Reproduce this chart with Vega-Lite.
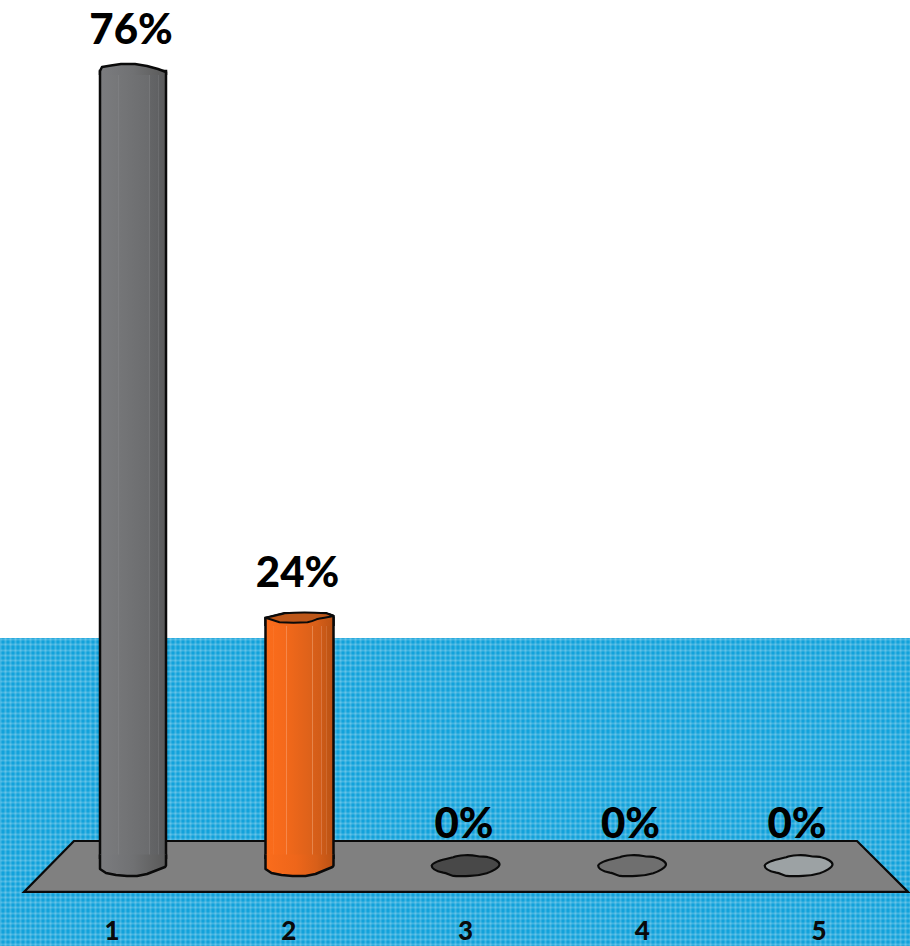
{
  "$schema": "https://vega.github.io/schema/vega-lite/v6.json",
  "width": 910,
  "height": 946,
  "padding": 0,
  "autosize": {"type": "none"},
  "background": "white",
  "view": {"fill": "#12a2db", "stroke": null},
  "datasets": {
    "results": [
      {"category": 1, "value": 0.76},
      {"category": 2, "value": 0.24},
      {"category": 3, "value": 0},
      {"category": 4, "value": 0},
      {"category": 5, "value": 0}
    ],
    "wall": [{"left": 0, "right": 910, "bottom": 0.221, "top": 0.8275}],
    "floor": [
      {"level": 0.028, "left": 74, "right": 857},
      {"level": -0.0204, "left": 24, "right": 908}
    ]
  },
  "resolve": {"scale": {"x": "independent", "y": "independent"}},
  "layer": [
    {
      "description": "White wall above the patterned backdrop; its axes carry the plaid grid",
      "data": {"name": "wall"},
      "mark": {"type": "rect", "fill": "white"},
      "encoding": {
        "x": {"field": "left", "type": "quantitative", "scale": {"domain": [0, 910], "nice": false, "zero": false},
          "axis": {"orient": "bottom", "title": null, "labels": false, "ticks": false, "domain": false, "grid": true, "tickCount": 182, "gridColor": "white", "gridOpacity": 0.2, "gridWidth": 2}},
        "x2": {"field": "right"},
        "y": {"field": "bottom", "type": "quantitative", "scale": {"domain": [-0.0718, 0.8275], "nice": false, "zero": false},
          "axis": {"orient": "left", "title": null, "labels": false, "ticks": false, "domain": false, "grid": true, "tickCount": 180, "gridColor": "white", "gridOpacity": 0.2, "gridWidth": 2}},
        "y2": {"field": "top"}
      }
    },
    {
      "description": "Floor plane under the columns",
      "data": {"name": "floor"},
      "mark": {"type": "area", "orient": "horizontal", "fill": "#808080", "stroke": "#0a0a0a", "strokeWidth": 2.2, "strokeJoin": "miter"},
      "encoding": {
        "y": {"field": "level", "type": "quantitative", "scale": {"domain": [-0.0718, 0.8275], "nice": false, "zero": false}, "axis": null},
        "x": {"field": "left", "type": "quantitative", "scale": {"domain": [0, 910], "nice": false, "zero": false}, "axis": null},
        "x2": {"field": "right"}
      }
    },
    {
      "description": "Grey column body",
      "data": {"name": "results"},
      "transform": [{"filter": "datum.category === 1"}],
      "mark": {"type": "bar", "size": 66, "stroke": "#0a0a0a", "strokeWidth": 2.5,
        "fill": {"gradient": "linear", "x1": 0, "x2": 1, "y1": 0, "y2": 0, "stops": [
          {"offset": 0, "color": "#7b7c7f"}, {"offset": 0.27, "color": "#767779"}, {"offset": 0.275, "color": "#86878a"}, {"offset": 0.285, "color": "#757678"},
          {"offset": 0.74, "color": "#6b6c6e"}, {"offset": 0.75, "color": "#767779"}, {"offset": 0.76, "color": "#646567"},
          {"offset": 0.875, "color": "#606163"}, {"offset": 0.885, "color": "#6e6f71"}, {"offset": 0.895, "color": "#5d5e60"}, {"offset": 1, "color": "#5a5a5a"}]}},
      "encoding": {
        "x": {"field": "category", "type": "ordinal", "scale": {"type": "point", "domain": [1, 2, 3, 4, 5], "range": [133, 799], "padding": 0}, "axis": null},
        "y": {"field": "value", "type": "quantitative", "scale": {"domain": [-0.0718, 0.8275], "nice": false, "zero": false}, "axis": null},
        "y2": {"datum": 0.012}
      }
    },
    {
      "description": "Grey column foot and top edge",
      "data": {"name": "results"},
      "transform": [{"filter": "datum.category === 1"}],
      "layer": [
        {"mark": {"type": "point", "filled": true, "opacity": 1, "size": 4, "stroke": "#0a0a0a", "strokeWidth": 2.5, "strokeJoin": "round",
          "shape": "M-33,4L-33,0L-31,-4L-22,-5.5L-12,-7L2,-7L14,-5L25,-2L33,1L33,4",
          "fill": {"gradient": "linear", "x1": 0, "x2": 1, "y1": 0, "y2": 0, "stops": [{"offset": 0, "color": "#7b7c7f"}, {"offset": 0.5, "color": "#707173"}, {"offset": 1, "color": "#5a5a5a"}]}},
          "encoding": {
            "x": {"field": "category", "type": "ordinal", "scale": {"type": "point", "domain": [1, 2, 3, 4, 5], "range": [133, 799], "padding": 0}, "axis": null},
            "y": {"field": "value", "type": "quantitative", "scale": {"domain": [-0.0718, 0.8275], "nice": false, "zero": false}, "axis": null}
          }},
        {"mark": {"type": "point", "filled": true, "opacity": 1, "size": 4, "stroke": "#0a0a0a", "strokeWidth": 2.5, "strokeJoin": "round",
          "shape": "M-33,-16L-33,-1.5L-27,2.5L-17,4.5L-6,5.5L4,5.5L14,3.5L32,-3.5L33,-5L33,-16",
          "fill": {"gradient": "linear", "x1": 0, "x2": 1, "y1": 0, "y2": 0, "stops": [{"offset": 0, "color": "#7b7c7f"}, {"offset": 0.5, "color": "#707173"}, {"offset": 1, "color": "#5a5a5a"}]}},
          "encoding": {
            "x": {"field": "category", "type": "ordinal", "scale": {"type": "point", "domain": [1, 2, 3, 4, 5], "range": [133, 799], "padding": 0}, "axis": null},
            "y": {"datum": 0, "type": "quantitative", "scale": {"domain": [-0.0718, 0.8275], "nice": false, "zero": false}, "axis": null}
          }}
      ]
    },
    {
      "description": "Orange column body, top and foot",
      "data": {"name": "results"},
      "transform": [{"filter": "datum.category === 2"}],
      "layer": [
        {"mark": {"type": "bar", "size": 68, "stroke": "#0a0a0a", "strokeWidth": 2.5,
          "fill": {"gradient": "linear", "x1": 0, "x2": 1, "y1": 0, "y2": 0, "stops": [
            {"offset": 0, "color": "#fa6c1c"}, {"offset": 0.105, "color": "#f96b1b"}, {"offset": 0.11, "color": "#fb8a48"}, {"offset": 0.12, "color": "#f96b1b"},
            {"offset": 0.305, "color": "#f4691b"}, {"offset": 0.31, "color": "#f79058"}, {"offset": 0.32, "color": "#f1681a"},
            {"offset": 0.68, "color": "#dc611a"}, {"offset": 0.69, "color": "#e88a52"}, {"offset": 0.7, "color": "#d85f19"},
            {"offset": 0.815, "color": "#d25c18"}, {"offset": 0.82, "color": "#e08455"}, {"offset": 0.83, "color": "#cc5a17"},
            {"offset": 0.895, "color": "#c75816"}, {"offset": 0.9, "color": "#d8804e"}, {"offset": 0.91, "color": "#c25615"}, {"offset": 1, "color": "#bb5214"}]}},
          "encoding": {
            "x": {"field": "category", "type": "ordinal", "scale": {"type": "point", "domain": [1, 2, 3, 4, 5], "range": [133, 799], "padding": 0}, "axis": null},
            "y": {"field": "value", "type": "quantitative", "scale": {"domain": [-0.0718, 0.8275], "nice": false, "zero": false}, "axis": null},
            "y2": {"datum": 0.012}
          }},
        {"mark": {"type": "point", "filled": true, "opacity": 1, "size": 4, "stroke": "#0a0a0a", "strokeWidth": 2.5, "strokeJoin": "round",
          "shape": "M-34,8L-34,0L-15,-4.7L27,-4.7L34,-2L34,8",
          "fill": {"gradient": "linear", "x1": 0, "x2": 1, "y1": 0, "y2": 0, "stops": [{"offset": 0, "color": "#fa6c1c"}, {"offset": 0.45, "color": "#ee661a"}, {"offset": 0.75, "color": "#d85f19"}, {"offset": 1, "color": "#bb5214"}]}},
          "encoding": {
            "x": {"field": "category", "type": "ordinal", "scale": {"type": "point", "domain": [1, 2, 3, 4, 5], "range": [133, 799], "padding": 0}, "axis": null},
            "y": {"field": "value", "type": "quantitative", "scale": {"domain": [-0.0718, 0.8275], "nice": false, "zero": false}, "axis": null}
          }},
        {"mark": {"type": "point", "filled": true, "opacity": 1, "size": 4, "fill": "#bd5719", "stroke": "#0a0a0a", "strokeWidth": 2, "strokeJoin": "round",
          "shape": "M-34,0C-28,-2 -20,-3 -15,-4.7C-5,-5.5 15,-5.5 27,-4.7C30,-3.5 32,-3 34,-2C28,-0.5 22,0 17,1.3C14,2.5 11,3.5 8,4.3C-2,4.8 -10,4.8 -20,4.3C-24,3 -27,2 -30,1Z"},
          "encoding": {
            "x": {"field": "category", "type": "ordinal", "scale": {"type": "point", "domain": [1, 2, 3, 4, 5], "range": [133, 799], "padding": 0}, "axis": null},
            "y": {"field": "value", "type": "quantitative", "scale": {"domain": [-0.0718, 0.8275], "nice": false, "zero": false}, "axis": null}
          }},
        {"mark": {"type": "point", "filled": true, "opacity": 1, "size": 4, "stroke": "#0a0a0a", "strokeWidth": 2.5, "strokeJoin": "round",
          "shape": "M-34,-16L-34,-1.5L-28,2.5L-18,4.5L-7,5.5L6,5.5L16,3.5L33,-3.5L34,-5L34,-16",
          "fill": {"gradient": "linear", "x1": 0, "x2": 1, "y1": 0, "y2": 0, "stops": [{"offset": 0, "color": "#fa6c1c"}, {"offset": 0.45, "color": "#ee661a"}, {"offset": 0.75, "color": "#d85f19"}, {"offset": 1, "color": "#bb5214"}]}},
          "encoding": {
            "x": {"field": "category", "type": "ordinal", "scale": {"type": "point", "domain": [1, 2, 3, 4, 5], "range": [133, 799], "padding": 0}, "axis": null},
            "y": {"datum": 0, "type": "quantitative", "scale": {"domain": [-0.0718, 0.8275], "nice": false, "zero": false}, "axis": null}
          }}
      ]
    },
    {
      "description": "Columns with no height collapse to a flat base on the floor",
      "data": {"name": "results"},
      "transform": [{"filter": "datum.value === 0"}],
      "mark": {"type": "point", "filled": true, "opacity": 1, "size": 4, "stroke": "#0a0a0a", "strokeWidth": 2.2, "strokeJoin": "round",
        "shape": "M-34.3,-4.8C-33,-9 -22,-11 -12.7,-13.2C-8,-15.5 4,-15.8 10.7,-14.5C15,-13.5 20,-14 22.3,-13.2C28,-12 33.5,-9 33.5,-6C33.5,-3 26,1 20.7,2.8C15,4.5 9,5.5 4,5.5C0,5.5 -6,6 -12.7,5.5C-17,4.5 -19,2.5 -22.7,2.2C-28,1 -34.3,-1 -34.3,-4.8Z"},
      "encoding": {
        "x": {"field": "category", "type": "ordinal", "scale": {"type": "point", "domain": [1, 2, 3, 4, 5], "range": [133, 799], "padding": 0}, "axis": null},
        "y": {"field": "value", "type": "quantitative", "scale": {"domain": [-0.0718, 0.8275], "nice": false, "zero": false}, "axis": null},
        "color": {"field": "category", "type": "nominal", "scale": {"domain": [3, 4, 5], "range": ["#484848", "#6f6f6f", "#9ca2a4"]}, "legend": null}
      }
    },
    {
      "description": "Percentage above each column",
      "data": {"name": "results"},
      "mark": {"type": "text", "font": "Lato", "fontWeight": 900, "fontSize": 42, "color": "black", "baseline": "middle", "align": "center"},
      "encoding": {
        "x": {"field": "category", "type": "ordinal", "scale": {"type": "point", "domain": [1, 2, 3, 4, 5], "range": [131, 797], "padding": 0}, "axis": null},
        "y": {"field": "value", "type": "quantitative", "scale": {"domain": [-0.1158, 0.7895], "nice": false, "zero": false}, "axis": null},
        "text": {"field": "value", "type": "quantitative", "format": ".0%"}
      }
    },
    {
      "description": "Category numbers along the front of the floor",
      "data": {"name": "results"},
      "mark": {"type": "text", "font": "Lato", "fontWeight": 900, "fontSize": 26, "color": "#0a0a0a", "baseline": "alphabetic", "align": "center"},
      "encoding": {
        "x": {"field": "category", "type": "ordinal", "scale": {"type": "point", "domain": [1, 2, 3, 4, 5], "range": [112, 819], "padding": 0}, "axis": null},
        "y": {"datum": -0.066, "type": "quantitative", "scale": {"domain": [-0.0718, 0.8275], "nice": false, "zero": false}, "axis": null},
        "text": {"field": "category", "type": "ordinal"}
      }
    }
  ]
}
